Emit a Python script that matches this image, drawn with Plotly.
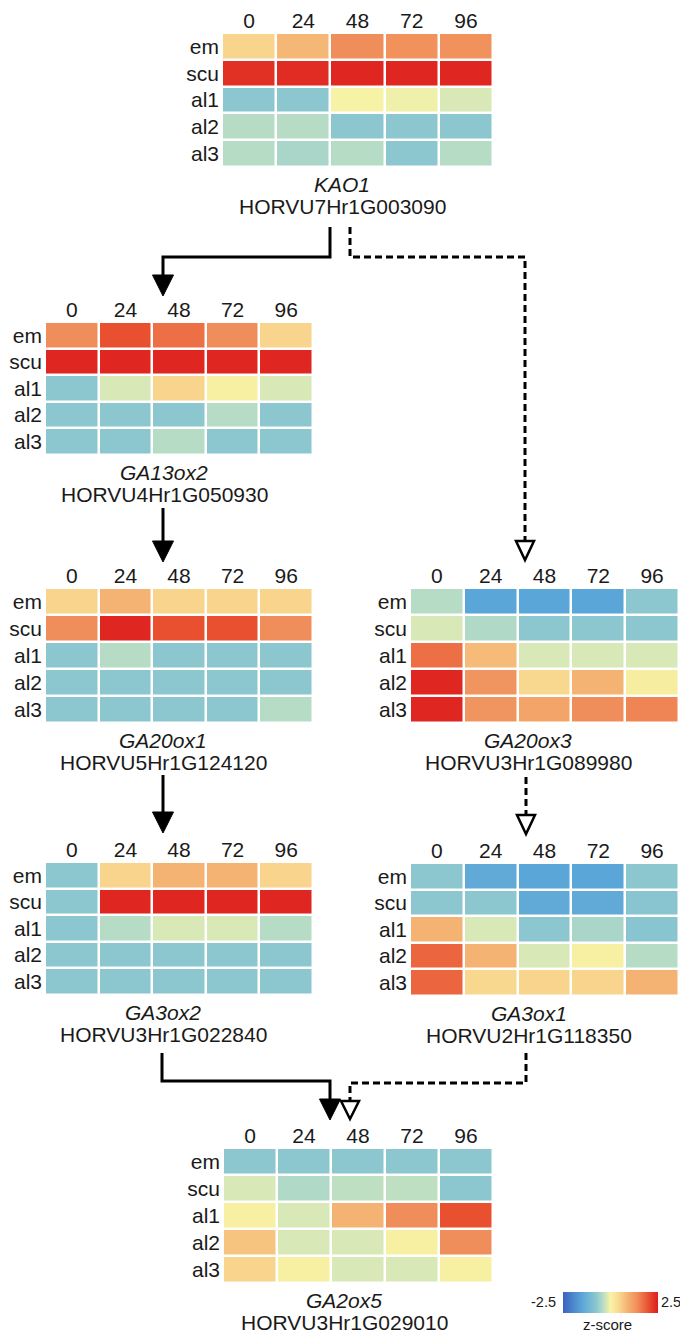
import plotly.graph_objects as go

W, H = 680, 1333

# ---------------- data ----------------
times = ["0", "24", "48", "72", "96"]
tissues = ["em", "scu", "al1", "al2", "al3"]

kao1 = [
    [0.5, 0.85, 1.4, 1.35, 1.35],
    [2.3, 2.35, 2.4, 2.4, 2.4],
    [-0.75, -0.75, 0.0, -0.05, -0.2],
    [-0.4, -0.4, -0.75, -0.75, -0.75],
    [-0.4, -0.5, -0.4, -0.75, -0.4],
]
ga13ox2 = [
    [1.4, 2.0, 1.7, 1.4, 0.5],
    [2.4, 2.4, 2.4, 2.4, 2.4],
    [-0.75, -0.2, 0.5, 0.05, -0.2],
    [-0.75, -0.75, -0.75, -0.4, -0.75],
    [-0.75, -0.75, -0.4, -0.75, -0.75],
]
ga20ox1 = [
    [0.5, 0.9, 0.5, 0.5, 0.5],
    [1.4, 2.4, 2.0, 2.0, 1.4],
    [-0.75, -0.4, -0.75, -0.75, -0.75],
    [-0.75, -0.75, -0.75, -0.75, -0.75],
    [-0.75, -0.75, -0.75, -0.75, -0.4],
]
ga20ox3 = [
    [-0.4, -1.5, -1.5, -1.5, -0.75],
    [-0.2, -0.45, -0.75, -0.75, -0.75],
    [1.7, 0.8, -0.2, -0.2, -0.2],
    [2.4, 1.3, 0.45, 0.9, 0.1],
    [2.4, 1.3, 1.1, 1.4, 1.5],
]
ga3ox2 = [
    [-0.75, 0.5, 0.9, 0.9, 0.5],
    [-0.75, 2.4, 2.4, 2.4, 2.4],
    [-0.75, -0.4, -0.2, -0.2, -0.4],
    [-0.75, -0.75, -0.75, -0.75, -0.75],
    [-0.75, -0.75, -0.75, -0.75, -0.75],
]
ga3ox1 = [
    [-0.75, -1.4, -1.5, -1.5, -0.75],
    [-0.75, -0.75, -1.4, -1.4, -0.8],
    [0.9, -0.2, -0.75, -0.5, -0.8],
    [1.8, 0.9, -0.2, 0.05, -0.4],
    [1.8, 0.45, 0.5, 0.5, 0.9],
]
ga2ox5 = [
    [-0.75, -0.75, -0.75, -0.75, -0.75],
    [-0.2, -0.45, -0.35, -0.35, -0.75],
    [0.05, -0.2, 0.9, 1.4, 2.0],
    [0.7, -0.2, -0.2, 0.05, 1.4],
    [0.5, 0.05, -0.2, -0.2, 0.05],
]

gene_names = ["KAO1", "GA13ox2", "GA20ox1", "GA20ox3", "GA3ox2", "GA3ox1", "GA2ox5"]
gene_ids = ["HORVU7Hr1G003090", "HORVU4Hr1G050930", "HORVU5Hr1G124120",
            "HORVU3Hr1G089980", "HORVU3Hr1G022840", "HORVU2Hr1G118350",
            "HORVU3Hr1G029010"]
matrices = [kao1, ga13ox2, ga20ox1, ga20ox3, ga3ox2, ga3ox1, ga2ox5]
zmin, zmax = -2.5, 2.5
cbar_labels = ["-2.5", "2.5"]
cbar_title = "z-score"

# ---------------- layout (pixels) ----------------
# (left, top, right, bottom) of each heatmap cell block, title center x
boxes = [
    (222, 33, 493, 167, 342),
    (45, 322, 313, 455, 164),
    (45, 588, 313, 723, 163),
    (410, 588, 679, 723, 528),
    (45, 862, 313, 995, 163),
    (410, 863, 679, 996, 529),
    (223, 1148, 493, 1283, 344),
]

def px(x):
    return x / W

def py(y):
    return 1 - y / H

FONT = "Liberation Sans, Arial, sans-serif"
TXT = "#1a1a1a"
FS = 21

colorscale = [
    [0.00, "#3b63bf"],
    [0.20, "#5aa6d8"],
    [0.35, "#8cc7cf"],
    [0.42, "#b6dcc6"],
    [0.46, "#d8e8b6"],
    [0.50, "#f7f3a6"],
    [0.60, "#f8d48c"],
    [0.68, "#f5b373"],
    [0.78, "#f08e5b"],
    [0.90, "#e8502f"],
    [1.00, "#dd1c1e"],
]

fig = go.Figure()
layout = dict(
    width=W, height=H, margin=dict(l=0, r=0, t=0, b=0),
    paper_bgcolor="white", plot_bgcolor="white",
    font=dict(family=FONT, color=TXT, size=FS),
    coloraxis=dict(
        colorscale=colorscale, cmin=zmin, cmax=zmax,
        colorbar=dict(
            orientation="h", x=px(563), xanchor="left",
            y=py(1292), yanchor="top", len=95, lenmode="pixels",
            thickness=21, thicknessmode="pixels", outlinewidth=0,
            showticklabels=False, ticks="", xpad=0, ypad=0,
        ),
    ),
    showlegend=False,
)

annotations = []
for i, (z, name, gid, b) in enumerate(zip(matrices, gene_names, gene_ids, boxes)):
    n = "" if i == 0 else str(i + 1)
    l, t, r, btm, tcx = b
    fig.add_trace(go.Heatmap(
        z=z, x=times, y=tissues, coloraxis="coloraxis",
        xaxis="x" + n, yaxis="y" + n, xgap=2.5, ygap=2.5,
        hoverinfo="skip",
    ))
    layout["xaxis" + n] = dict(
        domain=[px(l), min(px(r), 1)], anchor="y" + n, side="top", type="category",
        showgrid=False, zeroline=False, showline=False, ticks="",
        tickfont=dict(size=FS, family=FONT, color=TXT), fixedrange=True,
    )
    layout["yaxis" + n] = dict(
        domain=[py(btm), py(t)], anchor="x" + n, type="category",
        autorange="reversed", showgrid=False, zeroline=False,
        showline=False, ticks="", ticklabelstandoff=2,
        tickfont=dict(size=FS, family=FONT, color=TXT), fixedrange=True,
    )
    annotations.append(dict(
        x=px(tcx), y=py(btm + 17), xref="paper", yref="paper",
        text="<i>" + name + "</i>", showarrow=False,
        xanchor="center", yanchor="middle",
        font=dict(size=FS, family=FONT, color=TXT)))
    annotations.append(dict(
        x=px(tcx), y=py(btm + 39), xref="paper", yref="paper",
        text=gid, showarrow=False, xanchor="center", yanchor="middle",
        font=dict(size=FS, family=FONT, color=TXT)))

# colorbar labels
annotations.append(dict(x=px(558), y=py(1302), xref="paper", yref="paper",
                        text=cbar_labels[0], showarrow=False, xanchor="right",
                        yanchor="middle", font=dict(size=14.5, color=TXT)))
annotations.append(dict(x=px(659), y=py(1302), xref="paper", yref="paper",
                        text=cbar_labels[1], showarrow=False, xanchor="left",
                        yanchor="middle", font=dict(size=14.5, color=TXT)))
annotations.append(dict(x=px(607), y=py(1324), xref="paper", yref="paper",
                        text=cbar_title, showarrow=False, xanchor="center",
                        yanchor="middle", font=dict(size=15, color=TXT)))

# ---------------- arrows ----------------
shapes = []

def poly(points, closed=False):
    s = "M " + " L ".join(f"{px(x):.5f},{py(y):.5f}" for x, y in points)
    return s + (" Z" if closed else "")

def line(points, dashed=False):
    shapes.append(dict(type="path", xref="paper", yref="paper",
                       path=poly(points),
                       line=dict(color="black", width=3,
                                 dash="7px,4px" if dashed else "solid")))

def head(x, ytop, ytip, hw, filled=True):
    shapes.append(dict(type="path", xref="paper", yref="paper",
                       path=poly([(x - hw, ytop), (x + hw, ytop), (x, ytip)], True),
                       fillcolor="black" if filled else "white",
                       line=dict(color="black", width=1 if filled else 2.5)))

# KAO1 -> GA13ox2 (solid)
line([(330, 227), (330, 257), (163, 257), (163, 277)])
head(163, 275, 296, 10.5)
# KAO1 -> GA20ox3 (dashed)
line([(350, 227), (350, 257), (525, 257), (525, 541)], dashed=True)
head(525, 541, 560, 9, filled=False)
# GA13ox2 -> GA20ox1
line([(163, 508), (163, 542)])
head(163, 541, 562, 10.5)
# GA20ox1 -> GA3ox2
line([(163, 775), (163, 813)])
head(163, 812, 833, 10.5)
# GA20ox3 -> GA3ox1 (dashed)
line([(526, 777), (526, 815)], dashed=True)
head(526, 815, 834, 9, filled=False)
# GA3ox2 -> GA2ox5
line([(162, 1053), (162, 1081), (330, 1081), (330, 1101)])
head(330, 1099, 1120, 10.5)
# GA3ox1 -> GA2ox5 (dashed)
line([(526, 1053), (526, 1083), (350, 1083), (350, 1101)], dashed=True)
head(350, 1101, 1119, 9, filled=False)

layout["annotations"] = annotations
layout["shapes"] = shapes
fig.update_layout(**layout)

# remove the page's default 8px body margin so the figure fills the window
post = ("document.body.style.margin='0';"
        "document.documentElement.style.overflow='hidden';"
        "document.body.style.overflow='hidden';")
fig.write_html("out.html", post_script=post,
               config={"displayModeBar": False, "staticPlot": True})
